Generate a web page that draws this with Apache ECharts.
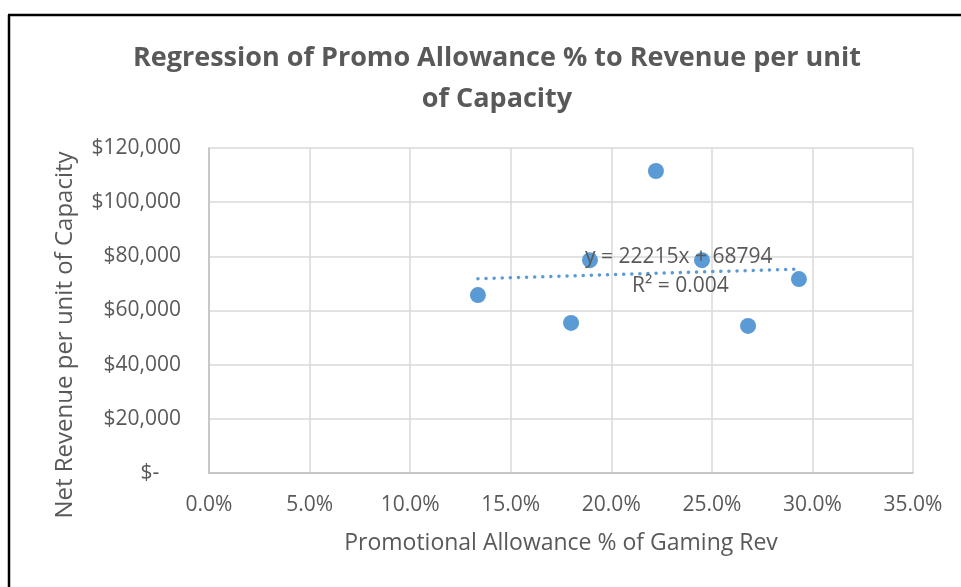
<!DOCTYPE html>
<html><head><meta charset="utf-8">
<script src="https://cdn.jsdelivr.net/npm/echarts@6/dist/echarts.min.js"></script>
<style>html,body{margin:0;padding:0;background:#fff}#c{width:961px;height:587px}</style>
</head><body><div id="c"></div>
<script>
const promoPct = [0.1337, 0.180, 0.1894, 0.2222, 0.2451, 0.268, 0.2933];
const revenue = [65700, 55400, 78600, 111500, 78600, 54300, 71600];
const trendSlope = 22215;
const trendIntercept = 68794;
const trendLabel1 = 'y = 22215x + 68794';
const trendLabel2 = 'R² = 0.004';
const yTicks = [0, 20000, 40000, 60000, 80000, 100000, 120000];

const pts = promoPct.map((x, i) => [x, revenue[i]]);
const xMin = Math.min(...promoPct), xMax = Math.max(...promoPct);
const trend = [[xMin, trendSlope * xMin + trendIntercept], [xMax, trendSlope * xMax + trendIntercept]];
const FONT = '"Open Sans", "Noto Sans", sans-serif';
const chart = echarts.init(document.getElementById('c'));
chart.setOption({
  animation: false,
  backgroundColor: '#fff',
  title: {
    text: 'Regression of Promo Allowance % to Revenue per unit\nof Capacity',
    left: 492, top: 33, textAlign: 'center',
    textStyle: { fontFamily: FONT, fontSize: 27, fontWeight: 'bold', color: '#595959', lineHeight: 41 }
  },
  grid: { left: 209, right: 48, top: 148, bottom: 114 },
  xAxis: {
    type: 'value', min: 0, max: 0.35, interval: 0.05,
    name: 'Promotional Allowance % of Gaming Rev', nameLocation: 'middle', nameGap: 59,
    nameTextStyle: { fontFamily: FONT, fontSize: 23, color: '#595959' },
    axisLine: { lineStyle: { color: '#bfbfbf', width: 1.5 } },
    axisTick: { show: false },
    axisLabel: { fontFamily: FONT, fontSize: 21, color: '#595959', margin: 22, formatter: v => (v * 100).toFixed(1) + '%' },
    splitLine: { show: true, lineStyle: { color: '#d9d9d9', width: 1.5 } }
  },
  yAxis: {
    type: 'value', min: 0, max: 120000, interval: 20000,
    axisLine: { show: true, lineStyle: { color: '#bfbfbf', width: 1.5 } },
    axisTick: { show: false },
    axisLabel: { fontFamily: FONT, fontSize: 21, color: '#595959', margin: 28,
      formatter: v => v === 0 ? '$-    ' : '$' + v.toLocaleString('en-US') },
    splitLine: { show: true, lineStyle: { color: '#d9d9d9', width: 1.5 } }
  },
  series: [
    { type: 'line', data: trend, symbol: 'none', z: 3,
      lineStyle: { color: '#5b9bd5', width: 3.5, type: [0.1, 8], cap: 'round' } },
    { type: 'scatter', data: pts, symbol: 'circle', symbolSize: 16, z: 4,
      itemStyle: { color: '#5b9bd5', opacity: 1 } }
  ],
  graphic: [
    { type: 'text', x: 65, y: 335, rotation: Math.PI / 2, z: 10,
      style: { text: 'Net Revenue per unit of Capacity', font: '24px ' + FONT, fill: '#595959', align: 'center', verticalAlign: 'middle' } },
    { type: 'text', left: 585, top: 247, z: 10,
      style: { text: trendLabel1, font: '21px ' + FONT, fill: '#595959' } },
    { type: 'text', left: 632, top: 276, z: 10,
      style: { text: trendLabel2, font: '21px ' + FONT, fill: '#595959' } },
    { type: 'line', shape: { x1: 9, y1: 15, x2: 9, y2: 587 }, style: { stroke: '#000', lineWidth: 2.5 } },
    { type: 'line', shape: { x1: 8, y1: 15, x2: 961, y2: 15 }, style: { stroke: '#000', lineWidth: 2.5 } }
  ]
});
</script></body></html>
